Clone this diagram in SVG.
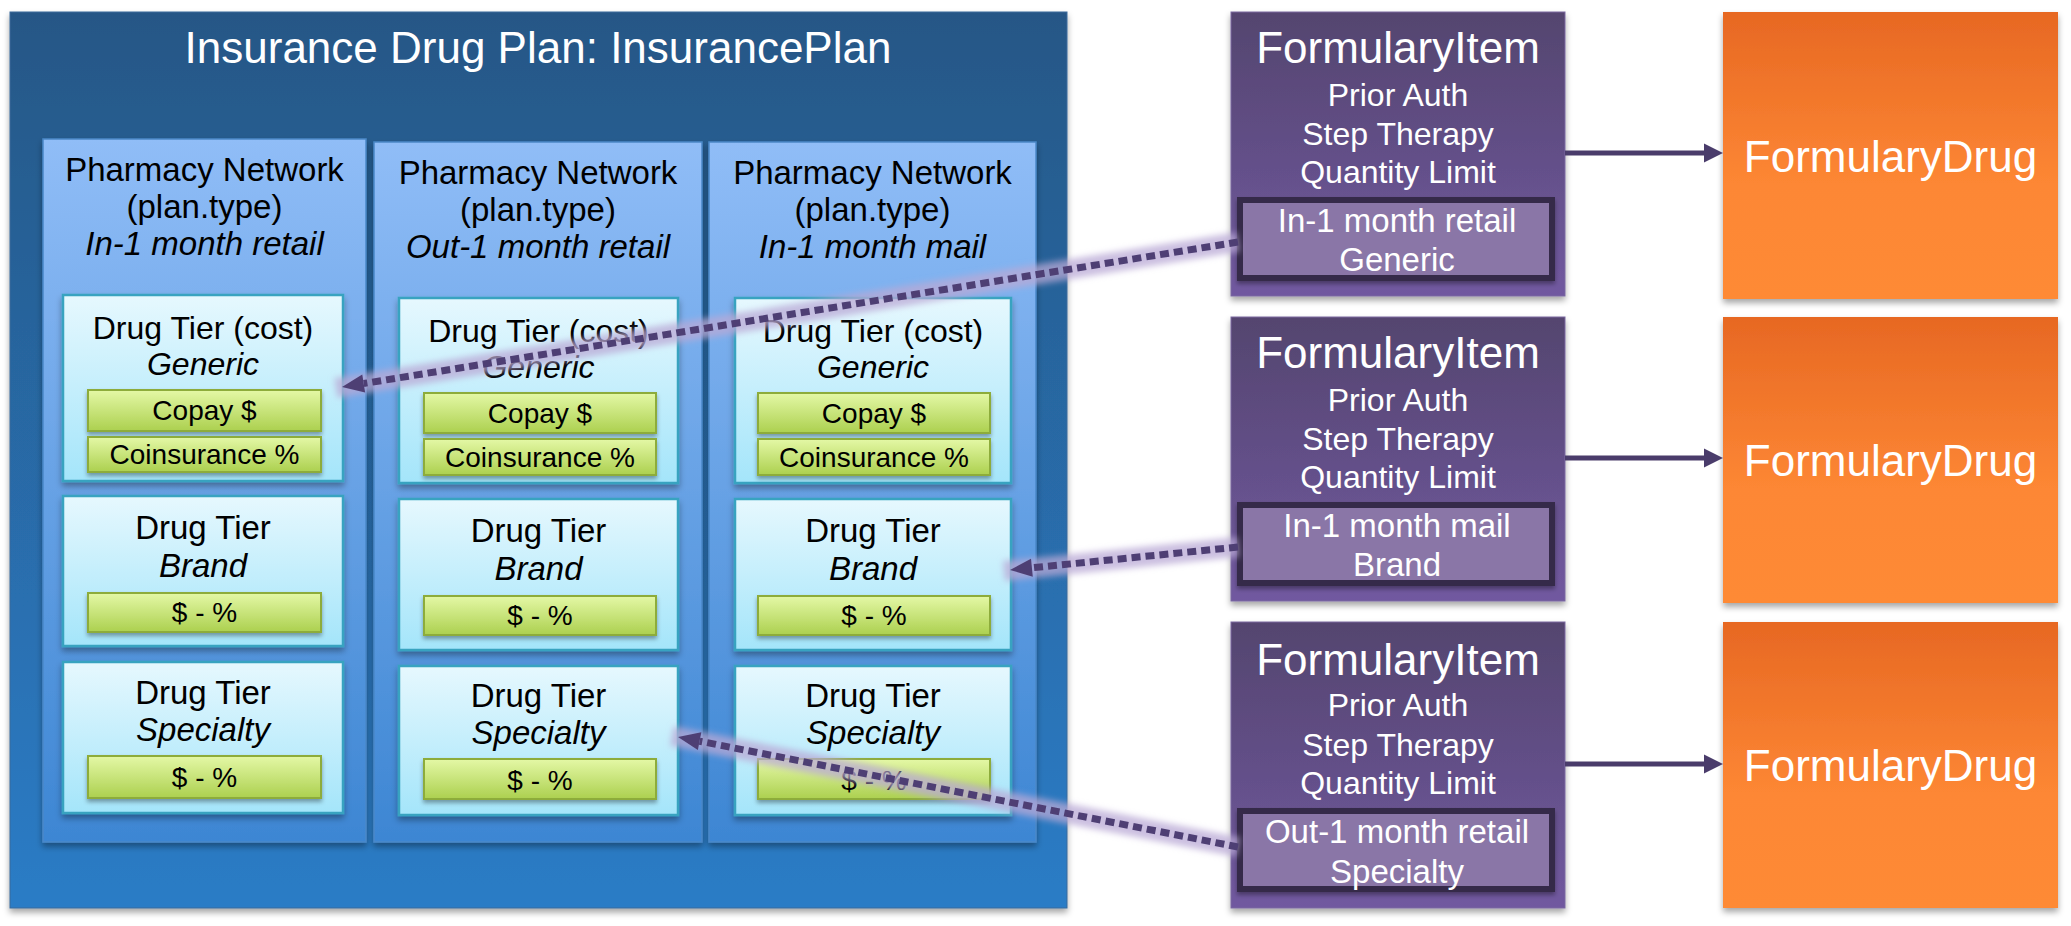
<svg xmlns="http://www.w3.org/2000/svg" width="2071" height="926" viewBox="0 0 2071 926">
<defs>
<linearGradient id="gOuter" x1="0" y1="0" x2="0" y2="1"><stop offset="0" stop-color="#275786"/><stop offset="1" stop-color="#2a7cc6"/></linearGradient>
<linearGradient id="gCol" x1="0" y1="0" x2="0" y2="1"><stop offset="0" stop-color="#90bdf7"/><stop offset="1" stop-color="#3d86d3"/></linearGradient>
<linearGradient id="gTier" x1="0" y1="0" x2="0" y2="1"><stop offset="0" stop-color="#e6f8fe"/><stop offset="1" stop-color="#a4e5fa"/></linearGradient>
<linearGradient id="gGreen" x1="0" y1="0" x2="0" y2="1"><stop offset="0" stop-color="#e4f8a6"/><stop offset="1" stop-color="#acd04f"/></linearGradient>
<linearGradient id="gFI" x1="0" y1="0" x2="0" y2="1"><stop offset="0" stop-color="#54456f"/><stop offset="1" stop-color="#7159a0"/></linearGradient>
<linearGradient id="gOr" x1="0" y1="0" x2="0" y2="1"><stop offset="0" stop-color="#e76823"/><stop offset="0.6" stop-color="#fd8734"/><stop offset="1" stop-color="#fe8a35"/></linearGradient>
<filter id="sh" x="-10%" y="-10%" width="120%" height="130%"><feDropShadow dx="0" dy="4" stdDeviation="3" flood-color="#000" flood-opacity="0.35"/></filter>
<filter id="shs" x="-10%" y="-10%" width="120%" height="140%"><feDropShadow dx="0" dy="3" stdDeviation="2" flood-color="#000" flood-opacity="0.35"/></filter>
<filter id="blur" x="-5%" y="-50%" width="110%" height="200%"><feGaussianBlur stdDeviation="3"/></filter>
<marker id="dh" viewBox="0 -12 26 24" refX="0" refY="0" markerWidth="26" markerHeight="24" markerUnits="userSpaceOnUse" orient="auto" overflow="visible"><path d="M0,-9 L22,0 L0,9 z" fill="#4e3f74"/></marker>
<marker id="sh2" viewBox="0 -12 22 24" refX="0" refY="0" markerWidth="22" markerHeight="24" markerUnits="userSpaceOnUse" orient="auto" overflow="visible"><path d="M0,-9.5 L19,0 L0,9.5 z" fill="#4a3c6b"/></marker>
<style>
.t{font-family:"Liberation Sans",Arial,sans-serif;text-anchor:middle}
.w{fill:#fff}
.k{fill:#000}
.i{font-style:italic}
.outer{fill:url(#gOuter);stroke:#3a6a9a;stroke-width:1}
.col{fill:url(#gCol);stroke:#4a88c8;stroke-width:1.5}
.tier{fill:url(#gTier);stroke:#37a3c0;stroke-width:2.5}
.grn{fill:url(#gGreen);stroke:#8dac3a;stroke-width:2}
.fi{fill:url(#gFI);stroke:#7a68a0;stroke-width:1}
.inner{fill:#8a76a7;stroke:#352b48;stroke-width:6}
.or{fill:url(#gOr)}
.glow{fill:none;stroke:#b9a9d6;stroke-width:20;stroke-opacity:0.75}
.dash{fill:none;stroke:#4e3f74;stroke-width:7;stroke-dasharray:9 5}
.solid{fill:none;stroke:#4a3c6b;stroke-width:5}
</style>
</defs>
<rect width="2071" height="926" fill="#fff"/>

<g id="plan">
<rect class="outer" x="10" y="12" width="1057" height="896" filter="url(#sh)"/>
<text class="t w" x="538" y="63" font-size="44">Insurance Drug Plan: InsurancePlan</text>
</g>

<g id="net1">
<rect class="col" x="43" y="139" width="323" height="703" filter="url(#sh)"/>
<text class="t k" x="204.5" y="181" font-size="33">Pharmacy Network</text>
<text class="t k" x="204.5" y="218" font-size="33">(plan.type)</text>
<text class="t k i" x="204.5" y="255" font-size="33">In-1 month retail</text>
</g>
<g id="net2">
<rect class="col" x="374" y="142" width="328" height="700" filter="url(#sh)"/>
<text class="t k" x="538" y="184" font-size="33">Pharmacy Network</text>
<text class="t k" x="538" y="221" font-size="33">(plan.type)</text>
<text class="t k i" x="538" y="258" font-size="33">Out-1 month retail</text>
</g>
<g id="net3">
<rect class="col" x="709" y="142" width="327" height="700" filter="url(#sh)"/>
<text class="t k" x="872.5" y="184" font-size="33">Pharmacy Network</text>
<text class="t k" x="872.5" y="221" font-size="33">(plan.type)</text>
<text class="t k i" x="872.5" y="258" font-size="33">In-1 month mail</text>
</g>

<!-- Column 1 tiers -->
<g id="tier1g">
<rect class="tier" x="63" y="295" width="280" height="186" filter="url(#sh)"/>
<text class="t k" x="203" y="339" font-size="32">Drug Tier (cost)</text>
<text class="t k i" x="203" y="375" font-size="32">Generic</text>
<rect class="grn" x="88" y="390" width="233" height="41" filter="url(#shs)"/>
<text class="t k" x="204.5" y="420" font-size="28">Copay $</text>
<rect class="grn" x="88" y="437" width="233" height="35" filter="url(#shs)"/>
<text class="t k" x="204.5" y="464" font-size="28">Coinsurance %</text>
</g>
<g id="tier1b">
<rect class="tier" x="63" y="496" width="280" height="150" filter="url(#sh)"/>
<text class="t k" x="203" y="539" font-size="33">Drug Tier</text>
<text class="t k i" x="203" y="577" font-size="33">Brand</text>
<rect class="grn" x="88" y="593" width="233" height="39" filter="url(#shs)"/>
<text class="t k" x="204.5" y="622" font-size="28">$ - %</text>
</g>
<g id="tier1s">
<rect class="tier" x="63" y="662" width="280" height="151" filter="url(#sh)"/>
<text class="t k" x="203" y="704" font-size="33">Drug Tier</text>
<text class="t k i" x="203" y="741" font-size="33">Specialty</text>
<rect class="grn" x="88" y="756" width="233" height="42" filter="url(#shs)"/>
<text class="t k" x="204.5" y="787" font-size="28">$ - %</text>
</g>

<!-- Column 2 tiers -->
<g id="tier2g">
<rect class="tier" x="399" y="298" width="279" height="185" filter="url(#sh)"/>
<text class="t k" x="538.5" y="342" font-size="32">Drug Tier (cost)</text>
<text class="t k i" x="538.5" y="378" font-size="32">Generic</text>
<rect class="grn" x="424" y="393" width="232" height="40" filter="url(#shs)"/>
<text class="t k" x="540" y="423" font-size="28">Copay $</text>
<rect class="grn" x="424" y="439" width="232" height="36" filter="url(#shs)"/>
<text class="t k" x="540" y="467" font-size="28">Coinsurance %</text>
</g>
<g id="tier2b">
<rect class="tier" x="399" y="499" width="279" height="151" filter="url(#sh)"/>
<text class="t k" x="538.5" y="542" font-size="33">Drug Tier</text>
<text class="t k i" x="538.5" y="580" font-size="33">Brand</text>
<rect class="grn" x="424" y="596" width="232" height="39" filter="url(#shs)"/>
<text class="t k" x="540" y="625" font-size="28">$ - %</text>
</g>
<g id="tier2s">
<rect class="tier" x="399" y="666" width="279" height="149" filter="url(#sh)"/>
<text class="t k" x="538.5" y="707" font-size="33">Drug Tier</text>
<text class="t k i" x="538.5" y="744" font-size="33">Specialty</text>
<rect class="grn" x="424" y="759" width="232" height="40" filter="url(#shs)"/>
<text class="t k" x="540" y="790" font-size="28">$ - %</text>
</g>

<!-- Column 3 tiers -->
<g id="tier3g">
<rect class="tier" x="735" y="298" width="276" height="185" filter="url(#sh)"/>
<text class="t k" x="873" y="342" font-size="32">Drug Tier (cost)</text>
<text class="t k i" x="873" y="378" font-size="32">Generic</text>
<rect class="grn" x="758" y="393" width="232" height="40" filter="url(#shs)"/>
<text class="t k" x="874" y="423" font-size="28">Copay $</text>
<rect class="grn" x="758" y="439" width="232" height="36" filter="url(#shs)"/>
<text class="t k" x="874" y="467" font-size="28">Coinsurance %</text>
</g>
<g id="tier3b">
<rect class="tier" x="735" y="499" width="276" height="151" filter="url(#sh)"/>
<text class="t k" x="873" y="542" font-size="33">Drug Tier</text>
<text class="t k i" x="873" y="580" font-size="33">Brand</text>
<rect class="grn" x="758" y="596" width="232" height="39" filter="url(#shs)"/>
<text class="t k" x="874" y="625" font-size="28">$ - %</text>
</g>
<g id="tier3s">
<rect class="tier" x="735" y="666" width="276" height="149" filter="url(#sh)"/>
<text class="t k" x="873" y="707" font-size="33">Drug Tier</text>
<text class="t k i" x="873" y="744" font-size="33">Specialty</text>
<rect class="grn" x="758" y="759" width="232" height="40" filter="url(#shs)"/>
<text class="t k" x="874" y="790" font-size="28">$ - %</text>
</g>

<!-- Formulary items -->
<g id="fi1">
<rect class="fi" x="1231" y="12" width="334" height="284" filter="url(#sh)"/>
<text class="t w" x="1398" y="63" font-size="44">FormularyItem</text>
<text class="t w" x="1398" y="106" font-size="32">Prior Auth</text>
<text class="t w" x="1398" y="145" font-size="32">Step Therapy</text>
<text class="t w" x="1398" y="183" font-size="32">Quantity Limit</text>
<rect class="inner" x="1240" y="200" width="312" height="78" filter="url(#shs)"/>
<text class="t w" x="1397" y="232" font-size="33">In-1 month retail</text>
<text class="t w" x="1397" y="271" font-size="33">Generic</text>
</g>
<g id="fi2">
<rect class="fi" x="1231" y="317" width="334" height="284" filter="url(#sh)"/>
<text class="t w" x="1398" y="368" font-size="44">FormularyItem</text>
<text class="t w" x="1398" y="411" font-size="32">Prior Auth</text>
<text class="t w" x="1398" y="450" font-size="32">Step Therapy</text>
<text class="t w" x="1398" y="488" font-size="32">Quantity Limit</text>
<rect class="inner" x="1240" y="505" width="312" height="78" filter="url(#shs)"/>
<text class="t w" x="1397" y="537" font-size="33">In-1 month mail</text>
<text class="t w" x="1397" y="576" font-size="33">Brand</text>
</g>
<g id="fi3">
<rect class="fi" x="1231" y="622" width="334" height="286" filter="url(#sh)"/>
<text class="t w" x="1398" y="675" font-size="44">FormularyItem</text>
<text class="t w" x="1398" y="716" font-size="32">Prior Auth</text>
<text class="t w" x="1398" y="756" font-size="32">Step Therapy</text>
<text class="t w" x="1398" y="794" font-size="32">Quantity Limit</text>
<rect class="inner" x="1240" y="811" width="312" height="78" filter="url(#shs)"/>
<text class="t w" x="1397" y="843" font-size="33">Out-1 month retail</text>
<text class="t w" x="1397" y="883" font-size="33">Specialty</text>
</g>

<!-- Formulary drugs -->
<g id="fd1">
<rect class="or" x="1723" y="12" width="335" height="287" filter="url(#sh)"/>
<text class="t w" x="1890.5" y="172" font-size="44">FormularyDrug</text>
</g>
<g id="fd2">
<rect class="or" x="1723" y="317" width="335" height="286" filter="url(#sh)"/>
<text class="t w" x="1890.5" y="476" font-size="44">FormularyDrug</text>
</g>
<g id="fd3">
<rect class="or" x="1723" y="622" width="335" height="286" filter="url(#sh)"/>
<text class="t w" x="1890.5" y="781" font-size="44">FormularyDrug</text>
</g>

<g id="connectors">
<path class="solid" d="M1565,153 L1704,153" marker-end="url(#sh2)"/>
<path class="solid" d="M1565,458 L1704,458" marker-end="url(#sh2)"/>
<path class="solid" d="M1565,764 L1704,764" marker-end="url(#sh2)"/>

<g filter="url(#blur)">
<path class="glow" d="M1238,242 L336,388"/>
<path class="glow" d="M1238,547 L1004,571"/>
<path class="glow" d="M1238,847 L672,736"/>
</g>
<path class="dash" d="M1238,242 L363.7,383.5" marker-end="url(#dh)"/>
<path class="dash" d="M1238,547 L1031.9,567.8" marker-end="url(#dh)"/>
<path class="dash" d="M1238,847 L699.6,741.2" marker-end="url(#dh)"/>
</g>
</svg>
